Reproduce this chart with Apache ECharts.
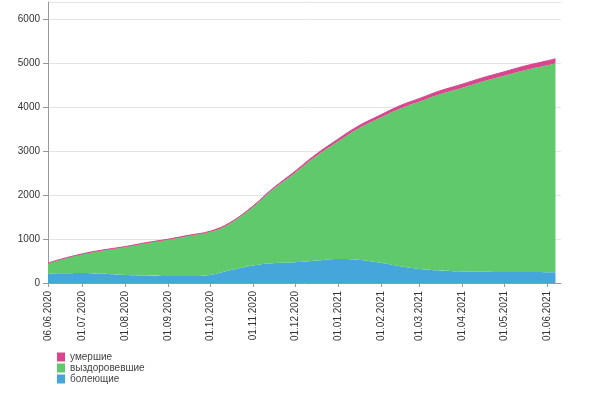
<!DOCTYPE html>
<html>
<head>
    <meta charset="utf-8">
    <title>ECharts</title>
    <script src="https://cdn.jsdelivr.net/npm/echarts@6/dist/echarts.min.js"></script>
    <style>
        html, body { margin: 0; padding: 0; background: #fff; }
        #main { width: 600px; height: 398px; }
    </style>
</head>
<body>
<div id="main"></div>
<script type="text/javascript">
    // даты точек (день.месяц.год)
    var dates = ['06.06.2020', '15.06.2020', '01.07.2020', '15.07.2020', '01.08.2020', '15.08.2020',
        '01.09.2020', '15.09.2020', '01.10.2020', '15.10.2020', '01.11.2020', '15.11.2020',
        '01.12.2020', '15.12.2020', '01.01.2021', '15.01.2021', '01.02.2021', '15.02.2021',
        '01.03.2021', '15.03.2021', '01.04.2021', '15.04.2021', '01.05.2021', '15.05.2021',
        '01.06.2021', '07.06.2021'];
    var active = [210, 220, 230, 210, 185, 170, 160, 160, 185, 290, 400, 450, 470, 505,
        545, 530, 460, 380, 318, 285, 264, 255, 250, 248, 245, 245];
    var recovered = [240, 314, 428, 531, 637, 734, 828, 912, 980, 1062, 1335, 1672, 2035, 2353,
        2678, 2974, 3308, 3593, 3814, 4008, 4184, 4328, 4468, 4590, 4713, 4760];
    var dead = [5, 6, 8, 9, 10, 11, 12, 13, 15, 18, 22, 28, 35, 42,
        50, 56, 62, 67, 72, 77, 82, 87, 92, 97, 102, 105];

    // подписи оси X
    var tickDates = ['06.06.2020', '01.07.2020', '01.08.2020', '01.09.2020', '01.10.2020', '01.11.2020',
        '01.12.2020', '01.01.2021', '01.02.2021', '01.03.2021', '01.04.2021', '01.05.2021', '01.06.2021'];
    var names = ['болеющие', 'выздоровевшие', 'умершие'];
    var colors = ['#45a6dc', '#5fc96b', '#d9468d'];

    function toTime(s) {
        var p = s.split('.');
        return Date.UTC(+p[2], +p[1] - 1, +p[0]);
    }
    function pad(n) {
        return n < 10 ? '0' + n : '' + n;
    }
    function fmt(v) {
        var d = new Date(v);
        return pad(d.getUTCDate()) + '.' + pad(d.getUTCMonth() + 1) + '.' + d.getUTCFullYear();
    }

    var ticks = tickDates.map(toTime);
    var values = [active, recovered, dead];

    var chart = echarts.init(document.getElementById('main'));
    chart.setOption({
        backgroundColor: '#fff',
        animation: false,
        textStyle: { fontFamily: 'Liberation Sans, Arial, sans-serif' },
        grid: { left: 48, right: 39, top: 2, bottom: 115 },
        legend: {
            orient: 'vertical',
            left: 52,
            top: 347,
            itemWidth: 8,
            itemHeight: 9,
            itemGap: 1,
            icon: 'rect',
            textStyle: { fontSize: 10, color: '#444', lineHeight: 10 },
            data: ['умершие', 'выздоровевшие', 'болеющие']
        },
        xAxis: {
            type: 'value',
            min: toTime('06.06.2020'),
            max: toTime('11.06.2021'),
            axisLine: { lineStyle: { color: '#999', width: 1 } },
            axisTick: { show: true, length: 4, customValues: ticks, lineStyle: { color: '#999' } },
            axisLabel: {
                customValues: ticks,
                rotate: 90,
                fontSize: 10,
                color: '#333',
                margin: 8,
                formatter: function (v) { return fmt(v); }
            },
            splitLine: { show: false }
        },
        yAxis: {
            type: 'value',
            min: 0,
            max: 6400,
            interval: 1000,
            axisLine: { show: true, lineStyle: { color: '#999', width: 1 } },
            axisTick: { show: true, length: 5, lineStyle: { color: '#999' } },
            axisLabel: {
                fontSize: 10, color: '#333', margin: 8, showMaxLabel: false,
                formatter: function (v) { return '' + v; }
            },
            splitLine: { lineStyle: { color: '#e4e4e4' } }
        },
        series: names.map(function (n, i) {
            return {
                name: n,
                type: 'line',
                stack: 'all',
                smooth: 0.4,
                symbol: 'none',
                color: colors[i],
                // значение первым, чтобы стек шёл по оси Y
                encode: { x: 1, y: 0 },
                lineStyle: { width: i == 2 ? 1 : 0, color: colors[i] },
                areaStyle: { color: colors[i], opacity: 1 },
                data: dates.map(function (d, j) { return [values[i][j], toTime(d)]; })
            };
        })
    });
</script>
</body>
</html>
